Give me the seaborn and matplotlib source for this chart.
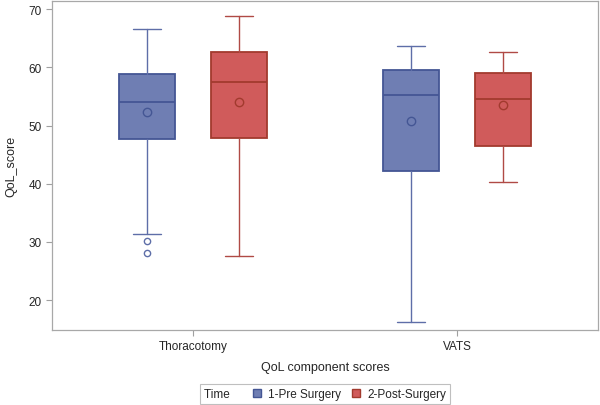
import seaborn as sns
from matplotlib import pyplot as plt
from matplotlib.patches import Patch

# summary stats (per group: [pre, post])
groups = ['Thoracotomy', 'VATS']
times = ['1-Pre Surgery', '2-Post-Surgery']
whis_lo = [[31.3, 27.6], [16.3, 40.3]]
q1 = [[47.7, 47.8], [42.1, 46.5]]
median = [[54.0, 57.4], [55.3, 54.5]]
q3 = [[58.9, 62.7], [59.6, 59.0]]
whis_hi = [[66.6, 68.85], [63.6, 62.7]]
means = [[52.25, 54.0], [50.8, 53.5]]
outliers = [[[30.1, 28.1], []], [[], []]]

fill_colors = ['#6F7EB3', '#D05B5B']
line_colors = ['#445694', '#A23A2E']
whisker_colors = ['#5E6EA8', '#B04A45']

sns.set_theme(style='white')
plt.rcParams['font.family'] = ['Liberation Sans', 'DejaVu Sans']

fig = plt.figure(figsize=(6, 4.06), dpi=100)
ax = fig.add_axes([52 / 600, 75 / 406, 546 / 600, 329 / 406])

offsets = [-0.175, 0.175]
for j, t in enumerate(times):
    stats = []
    positions = []
    for i, g in enumerate(groups):
        stats.append({'whislo': whis_lo[i][j], 'q1': q1[i][j], 'med': median[i][j],
                      'q3': q3[i][j], 'whishi': whis_hi[i][j], 'mean': means[i][j],
                      'fliers': outliers[i][j]})
        positions.append(i + offsets[j])
    ax.bxp(stats, positions=positions, widths=0.212, capwidths=0.106,
           patch_artist=True, showmeans=True, manage_ticks=False,
           boxprops=dict(facecolor=fill_colors[j], edgecolor=line_colors[j], linewidth=1.3),
           medianprops=dict(color=line_colors[j], linewidth=1.3),
           whiskerprops=dict(color=whisker_colors[j], linewidth=1),
           capprops=dict(color=whisker_colors[j], linewidth=1),
           meanprops=dict(marker='o', markerfacecolor='none', markeredgecolor=line_colors[j],
                          markersize=6, markeredgewidth=1),
           flierprops=dict(marker='o', markerfacecolor='none', markeredgecolor=whisker_colors[j],
                           markersize=4.5, markeredgewidth=1))

ax.set_xlim(-0.534, 1.534)
ax.set_ylim(14.85, 71.4)
ax.set_xticks(range(len(groups)))
ax.set_xticklabels(groups)
ax.set_yticks([20, 30, 40, 50, 60, 70])
ax.tick_params(axis='both', labelsize=8.5, colors='#A0A0A0', labelcolor='#262626',
               length=4, width=0.8, bottom=True, left=True, direction='out')
for s in ax.spines.values():
    s.set_color('#A8A8A8')
    s.set_linewidth(0.9)
ax.set_xlabel('QoL component scores', fontsize=9, color='#262626', labelpad=6)
ax.set_ylabel('QoL_score', fontsize=9, color='#262626', labelpad=8)
ax.grid(False)

handles = [Patch(visible=False)] + [Patch(facecolor=fill_colors[k], edgecolor=line_colors[k]) for k in range(2)]
leg = fig.legend(handles, ['Time'] + times, loc='center', bbox_to_anchor=(325 / 600, 1 - 395 / 406),
                 ncol=3, fontsize=8.5, frameon=True, fancybox=False, handlelength=0.7,
                 handleheight=0.7, handletextpad=0.6, columnspacing=0.9, borderpad=0.3,
                 borderaxespad=0)
# collapse the empty handle in front of "Time" and widen the gap after it
first_row = leg._legend_handle_box.get_children()[0].get_children()[0]
first_row.get_children()[0].width = 0
first_row.sep = 0
first_row.get_children()[1].set_text('Time    ')
leg.get_frame().set_edgecolor('#B0B0B0')
leg.get_frame().set_linewidth(0.8)
for txt in leg.get_texts():
    txt.set_color('#262626')

fig.savefig('out.png', dpi=100)
